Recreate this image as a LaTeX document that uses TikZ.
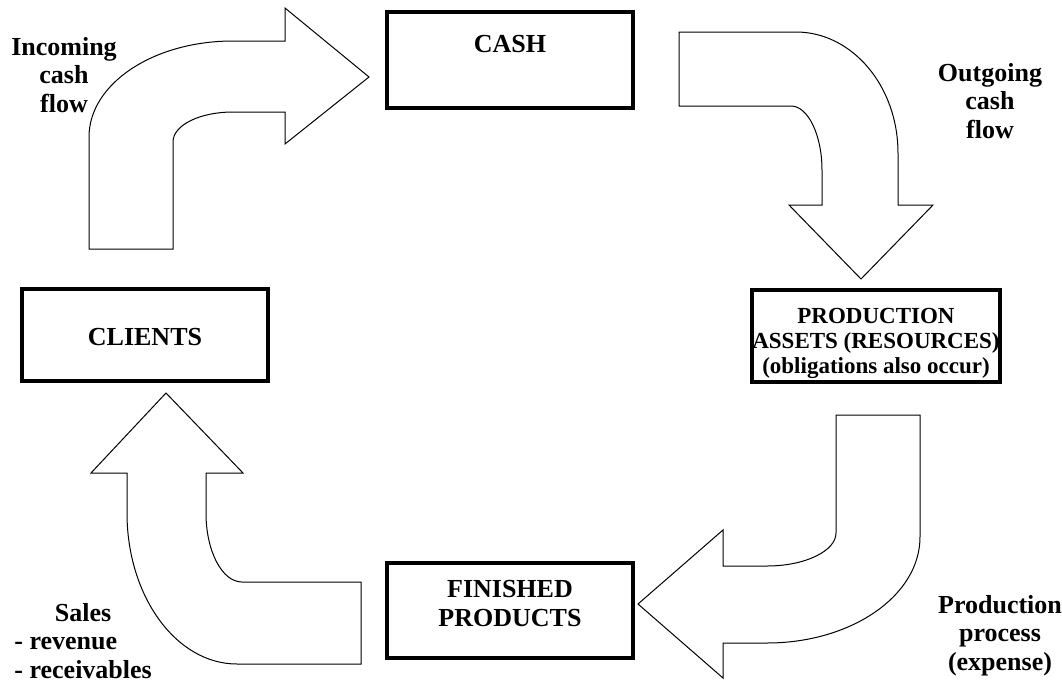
\documentclass[tikz,border=0pt]{standalone}
\usepackage{fontspec}
\setmainfont{Liberation Serif}
\usepackage{tikz}
\definecolor{myink}{RGB}{0,0,0}
\newcommand{\flowfont}{\fontsize{13}{14.25}\selectfont\bfseries}
\newcommand{\assetfont}{\fontsize{11.5}{12.5}\selectfont\bfseries}
\tikzset{
  stockbox/.style={rectangle, draw=myink, line width=2pt, inner sep=0pt,
    minimum width=123pt, align=center, font=\flowfont},
  flowarrow/.style={draw=myink, fill=white, line width=0.5pt, line join=miter},
  flowlabel/.style={inner sep=0pt, align=center, font=\flowfont}
}

\begin{document}
\begin{tikzpicture}[x=0.5pt, y=-0.5pt]
  \useasboundingbox (0,0) rectangle (1062,681);

  % Stocks (multi-line nodes sit on their last baseline)
  \node[stockbox, text height=20pt, text depth=28pt, anchor=base] (cash) at (510,52) {CASH};
  \node[stockbox, text height=28pt, text depth=18pt, anchor=base] (clients) at (145,345) {CLIENTS};
  \node[stockbox, font=\assetfont, text height=41.5pt, text depth=4.5pt, anchor=base] (assets) at (876,373)
    {PRODUCTION\\ASSETS (RESOURCES)\\(obligations also occur)};
  \node[stockbox, text height=31.5pt, text depth=16pt, anchor=base] (finished) at (510,626)
    {FINISHED\\PRODUCTS};

  % Incoming cash flow arrow
  \draw[flowarrow] (89,249) -- (89,137) .. controls (89,84) and (153,41) .. (233,41)
    -- (285,41) -- (285,8) -- (369,77) -- (285,144) -- (285,112) -- (233,112)
    .. controls (200,112) and (173,125) .. (173,142) -- (173,249) -- cycle;

  % Outgoing cash flow arrow
  \draw[flowarrow] (679,32) -- (796,32) .. controls (852,32) and (898,86) .. (898,153)
    -- (898,205) -- (933,205) -- (861,279) -- (789,205) -- (822,205) -- (822,170)
    .. controls (822,135) and (808,106) .. (791,106) -- (679,106) -- cycle;

  % Production process arrow
  \draw[flowarrow] (836,415) -- (920,415) -- (920,537) .. controls (920,596) and (851,643) .. (767,643)
    -- (723,643) -- (723,678) -- (638,604) -- (723,530) -- (723,566) -- (767,566)
    .. controls (805,566) and (836,551) .. (836,533) -- cycle;

  % Sales arrow
  \draw[flowarrow] (361,582) -- (361,664) -- (237,664) .. controls (176,664) and (127,596) .. (127,513)
    -- (127,473) -- (91,473) -- (166,393) -- (243,473) -- (206,473) -- (206,513)
    .. controls (206,551) and (222,582) .. (242,582) -- cycle;

  % Labels
  \node[flowlabel, anchor=base] (inlbl) at (64,112) {Incoming\\cash\\flow};
  \node[flowlabel, anchor=base] (outlbl) at (990,138) {Outgoing\\cash\\flow};
  \node[flowlabel, anchor=base] (prodlbl) at (1000,670) {Production\\process\\(expense)};
  \node[flowlabel, anchor=base west] (saleslbl) at (14,621)
    {\begin{tabular}[t]{@{}l@{}}\multicolumn{1}{@{}c@{}}{Sales}\\- revenue\\- receivables\end{tabular}};
\end{tikzpicture}
\end{document}
